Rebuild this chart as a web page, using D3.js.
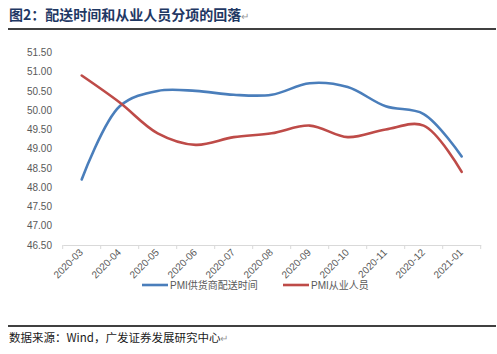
<!DOCTYPE html>
<html>
<head>
<meta charset="utf-8">
<script src="https://cdn.jsdelivr.net/npm/d3@7"></script>
<style>
  body { margin: 0; background: #fff; }
  svg { display: block; }
</style>
</head>
<body>
<div id="chart"></div>
<script>
// Data
const months = ["2020-03", "2020-04", "2020-05", "2020-06", "2020-07", "2020-08",
                "2020-09", "2020-10", "2020-11", "2020-12", "2021-01"];
const deliveryTime = [48.2, 50.1, 50.5, 50.5, 50.4, 50.4, 50.7, 50.6, 50.1, 49.9, 48.8];
const employment = [50.9, 50.2, 49.4, 49.1, 49.3, 49.4, 49.6, 49.3, 49.5, 49.6, 48.4];
const yTicks = [46.5, 47, 47.5, 48, 48.5, 49, 49.5, 50, 50.5, 51, 51.5];
const seriesNames = ["PMI供货商配送时间", "PMI从业人员"];

const W = 497, H = 354;
const svg = d3.select("#chart").append("svg").attr("width", W).attr("height", H);

// Title and rules
svg.append("text").attr("x", 9).attr("y", 20)
    .style("font-family", "'Noto Sans CJK SC', sans-serif").style("font-size", "14px").style("font-weight", "700")
    .style("fill", "#1f3864").text("图2：配送时间和从业人员分项的回落")
    .append("tspan").style("fill", "#999").style("font-weight", "400").style("font-size", "10px").text("↵");
svg.append("line").attr("x1", 8).attr("x2", 496).attr("y1", 29).attr("y2", 29).attr("stroke", "#000").attr("stroke-width", 1.5);
svg.append("line").attr("x1", 8).attr("x2", 496).attr("y1", 326).attr("y2", 326).attr("stroke", "#000").attr("stroke-width", 1.5);
svg.append("text").attr("x", 9).attr("y", 342)
    .style("font-family", "'Noto Sans CJK SC', sans-serif").style("font-size", "11.5px")
    .style("fill", "#1a1a1a").text("数据来源：Wind，广发证券发展研究中心")
    .append("tspan").style("fill", "#999").style("font-size", "10px").text("↵");

// Scales
const x = d3.scaleBand().domain(months).range([62.7, 480.7]);
const y = d3.scaleLinear().domain([46.5, 51.5]).range([245, 52.4]);
const cx = d => x(d) + x.bandwidth() / 2;

// Axes
const xAxis = svg.append("g").attr("transform", "translate(0,245)")
    .call(d3.axisBottom(x).tickSize(0).tickSizeOuter(0));
xAxis.select(".domain").attr("stroke", "#d9d9d9");
xAxis.selectAll("text")
    .attr("text-anchor", "end")
    .attr("dy", null).attr("y", 0)
    .attr("transform", "translate(2,8) rotate(-45)")
    .style("font-family", "'Liberation Sans', Arial, sans-serif").style("font-size", "10px").style("fill", "#595959");

// tick marks between categories
svg.append("g").selectAll("line")
    .data(months.map(m => x(m)).concat([x.range()[1]]))
    .join("line")
    .attr("x1", d => d).attr("x2", d => d)
    .attr("y1", 245).attr("y2", 249)
    .attr("stroke", "#d9d9d9");

const yAxis = svg.append("g").attr("transform", "translate(52,0)")
    .call(d3.axisLeft(y).tickValues(yTicks).tickSize(0).tickFormat(d3.format(".2f")));
yAxis.select(".domain").remove();
yAxis.selectAll("text")
    .attr("x", 0)
    .style("font-family", "'Liberation Sans', Arial, sans-serif").style("font-size", "10px").style("fill", "#595959");

// Lines
const line = d3.line().x(d => cx(d.m)).y(d => y(d.v)).curve(d3.curveCatmullRom.alpha(0.5));
const colors = ["#4a7ebb", "#be4b48"];
[deliveryTime, employment].forEach((vals, i) => {
    svg.append("path")
        .datum(vals.map((v, j) => ({ m: months[j], v })))
        .attr("fill", "none").attr("stroke", colors[i]).attr("stroke-width", 2.6)
        .attr("stroke-linecap", "round").attr("stroke-linejoin", "round")
        .attr("d", line);
});

// Legend
const legendX = [142, 283];
seriesNames.forEach((name, i) => {
    const g = svg.append("g").attr("transform", `translate(${legendX[i]},285)`);
    g.append("line").attr("x1", 0).attr("x2", 26).attr("stroke", colors[i]).attr("stroke-width", 2.6);
    g.append("text").attr("x", 28).attr("y", 4)
        .style("font-family", "'Liberation Sans', 'Noto Sans CJK SC', sans-serif").style("font-size", "10px")
        .style("fill", "#595959").text(name);
});
</script>
</body>
</html>
